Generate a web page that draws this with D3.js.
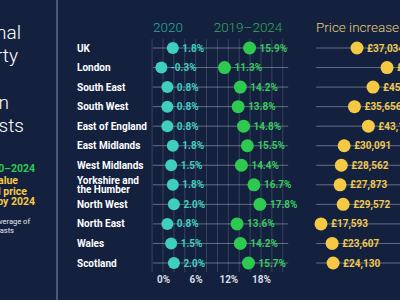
<!DOCTYPE html>
<html>
<head>
<meta charset="utf-8">
<script src="https://cdn.jsdelivr.net/npm/d3@7"></script>
<style>
  body { margin: 0; background: #13213f; }
  svg { display: block; font-family: Roboto, "Noto Sans", sans-serif; }
</style>
</head>
<body>
<div id="root"></div>
<script>
// DATA
let regions = ["UK", "London", "South East", "South West", "East of England", "East Midlands",
  "West Midlands", "Yorkshire and\nthe Humber", "North West", "North East", "Wales", "Scotland"];
let growth2020 = [1.8, -0.3, 0.8, 0.8, 0.8, 1.8, 1.5, 1.8, 2.0, 0.8, 1.5, 2.0];
let growth1924 = [15.9, 11.3, 14.2, 13.8, 14.8, 15.5, 14.4, 16.7, 17.8, 13.6, 14.2, 15.7];
let priceIncrease = [37034, 53240, 45672, 35656, 43166, 30091, 28562, 27873, 29572, 17593, 23607, 24130];
let pctTicks = [0, 6, 12, 18];
let titleLines = ["Regional", "property", "price", "rises in", "forecasts"];
let legendLines = ["Growth 2020–2024", "Average value", "Additional price", "increase by 2024"];
let noteLines = ["*An average of", "forecasts"];

// DIMENSIONS
let width = 400, height = 300;
let bg = "#13213f", teal = "#3fcfbd", green = "#2ec94f", yellow = "#f6c944";

let svg = d3.select("#root").append("svg")
  .attr("width", width).attr("height", height)
  .style("background-color", bg);

let yScale = d3.scalePoint().domain(regions).range([48, 263]);
let xPct = d3.scaleLinear().domain([0, 18]).range([163, 261]);
let xPrice = d3.scaleLinear().domain([0, 40000]).range([288.4, 362.5]);

// left panel (text runs off the left edge, anchored at its right end)
svg.append("line").attr("x1", 57).attr("x2", 57).attr("y1", 0).attr("y2", height)
  .style("stroke", "#8a93a8").style("stroke-width", 1);

let titleEnds = [21, 18, -8, 9, 24];
svg.append("g").selectAll("text").data(titleLines).enter().append("text")
  .attr("text-anchor", "end")
  .attr("x", (d, i) => titleEnds[i]).attr("y", (d, i) => 39 + i * 23.2)
  .style("fill", "#ffffff").style("font-size", "19px").style("font-weight", 300)
  .text(d => d);

let legendEnds = [35, 18, 27, 35], legendY = [172, 183.5, 195, 205];
let legendCol = [green, yellow, yellow, yellow];
svg.append("g").selectAll("text").data(legendLines).enter().append("text")
  .attr("text-anchor", "end")
  .attr("x", (d, i) => legendEnds[i]).attr("y", (d, i) => legendY[i])
  .style("fill", (d, i) => legendCol[i]).style("font-size", "10.5px").style("font-weight", 700)
  .text(d => d);

let noteEnds = [30, 14];
svg.append("g").selectAll("text").data(noteLines).enter().append("text")
  .attr("text-anchor", "end")
  .attr("x", (d, i) => noteEnds[i]).attr("y", (d, i) => 224 + i * 8.5)
  .style("fill", "#e6e8ee").style("font-size", "7.5px")
  .text(d => d);

// headers
svg.append("text").attr("x", 168).attr("y", 32).attr("text-anchor", "middle")
  .style("fill", "#2aa899").style("font-size", "13.5px").style("font-weight", 300).text("2020");
svg.append("text").attr("x", 248).attr("y", 32).attr("text-anchor", "middle")
  .style("fill", "#35a85a").style("font-size", "13.5px").style("font-weight", 300).text("2019–2024");
svg.append("text").attr("x", 316).attr("y", 32)
  .style("fill", "#e9cf7a").style("font-size", "13.5px").style("font-weight", 300).text("Price increase");

// vertical gridlines
svg.append("g").selectAll("line").data(d3.range(-2, 23, 2)).enter().append("line")
  .attr("x1", d => xPct(d)).attr("x2", d => xPct(d))
  .attr("y1", 39).attr("y2", 272)
  .style("stroke", "#ffffff").style("stroke-opacity", 0.22).style("stroke-width", 0.7);

// row lines
let rows = svg.append("g").selectAll("g").data(regions).enter().append("g");
rows.append("line")
  .attr("x1", xPct(-1.85)).attr("x2", xPct(23))
  .attr("y1", d => yScale(d)).attr("y2", d => yScale(d))
  .style("stroke", "#c8cdd8").style("stroke-opacity", 0.45).style("stroke-width", 1);
rows.append("line")
  .attr("x1", xPrice(15000)).attr("x2", width)
  .attr("y1", d => yScale(d)).attr("y2", d => yScale(d))
  .style("stroke", "#c8cdd8").style("stroke-opacity", 0.45).style("stroke-width", 1);

// row labels
rows.append("text")
  .attr("y", d => yScale(d) + (d.includes("\n") ? -4.5 : 0))
  .style("fill", "#ffffff").style("font-size", "10px").style("font-weight", 700)
  .each(function (d) {
    let parts = d.split("\n");
    d3.select(this).selectAll("tspan").data(parts).enter().append("tspan")
      .attr("x", 77).attr("dy", (p, i) => i === 0 ? "0.35em" : "0.9em")
      .text(p => p);
  });

// dots + labels
function drawSeries(values, scale, color, textColor, r, fmt) {
  let g = svg.append("g");
  g.selectAll("circle").data(values).enter().append("circle")
    .attr("cx", d => scale(d)).attr("cy", (d, i) => yScale(regions[i]))
    .attr("r", r).style("fill", color);
  g.selectAll("text").data(values).enter().append("text")
    .attr("x", d => scale(d) + r + 3.5).attr("y", (d, i) => yScale(regions[i]))
    .attr("dy", "0.35em")
    .style("fill", textColor).style("font-size", "10px").style("font-weight", 700)
    .text(fmt);
}
drawSeries(growth2020, xPct, teal, teal, 6, d => d.toFixed(1) + "%");
drawSeries(growth1924, xPct, green, "#38c95c", 6.5, d => d.toFixed(1) + "%");
drawSeries(priceIncrease, xPrice, yellow, "#f0c94e", 6.5, d => "£" + d3.format(",")(d));

// x axis
let xAxis = svg.append("g").attr("transform", "translate(0, 273)")
  .call(d3.axisBottom(xPct).tickValues(pctTicks).tickFormat(d => d + "%").tickSize(0));
xAxis.select(".domain").remove();
xAxis.selectAll("text")
  .style("fill", "#d8dce4").style("font-size", "10px").style("font-weight", 700)
  .style("font-family", "Roboto, sans-serif");
</script>
</body>
</html>
